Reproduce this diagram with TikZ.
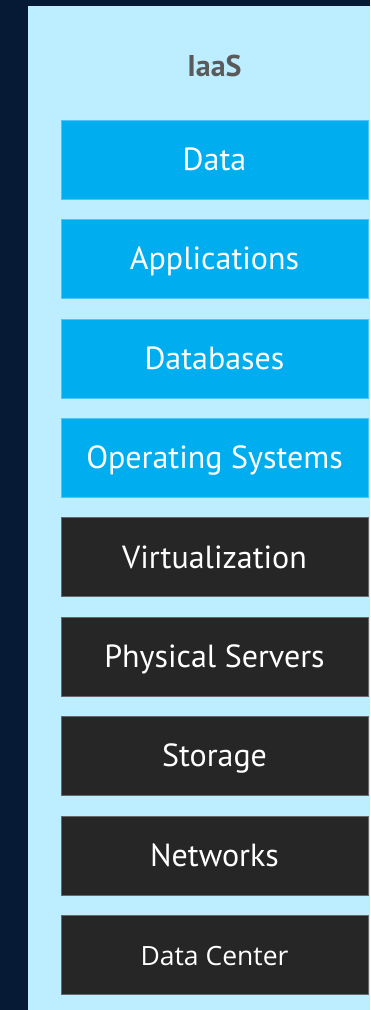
\documentclass[tikz,border=0pt]{standalone}
\usepackage{fontspec}
\setmainfont{PT Sans}
\newfontfamily\dcfont{Open Sans}
\usepackage{xcolor}
\usetikzlibrary{positioning}

\definecolor{navybg}{HTML}{071A35}
\definecolor{panelblue}{HTML}{BDEEFF}
\definecolor{layerblue}{HTML}{00ADEF}
\definecolor{layerdark}{HTML}{262626}
\definecolor{titlegray}{HTML}{5A5A5A}

\begin{document}
\begin{tikzpicture}[
  x=1pt, y=-1pt,
  node distance=20.4pt,
  layerbox/.style={minimum width=307pt, minimum height=79pt, inner sep=0pt, outer sep=0pt,
    text height=22pt, text depth=0pt,
    align=center, text=white, font=\fontsize{32}{35}\selectfont},
  userbox/.style={layerbox, fill=layerblue, draw=layerblue!70!white, line width=0.6pt},
  vendorbox/.style={layerbox, fill=layerdark, draw=layerdark!70!white, line width=0.6pt}
]
\useasboundingbox (0,0) rectangle (370,1010);
\fill[navybg] (0,0) rectangle (370,1010);
\fill[panelblue] (28,6) rectangle (370,1010);

\node[font=\bfseries\fontsize{30}{33}\selectfont, text=titlegray] (title) at (214.5,66) {IaaS};

\node[userbox] (data) at (214.5,159.5) {Data};
\node[userbox, below=of data] (apps) {Applications};
\node[userbox, below=of apps] (dbs) {Databases};
\node[userbox, below=of dbs] (os) {Operating Systems};
\node[vendorbox, below=of os] (virt) {Virtualization};
\node[vendorbox, below=of virt] (servers) {Physical Servers};
\node[vendorbox, below=of servers] (storage) {Storage};
\node[vendorbox, below=of storage] (networks) {Networks};
\node[vendorbox, below=of networks, font=\dcfont\fontsize{26.5}{29}\selectfont] (dc) {Data Center};
\end{tikzpicture}
\end{document}
